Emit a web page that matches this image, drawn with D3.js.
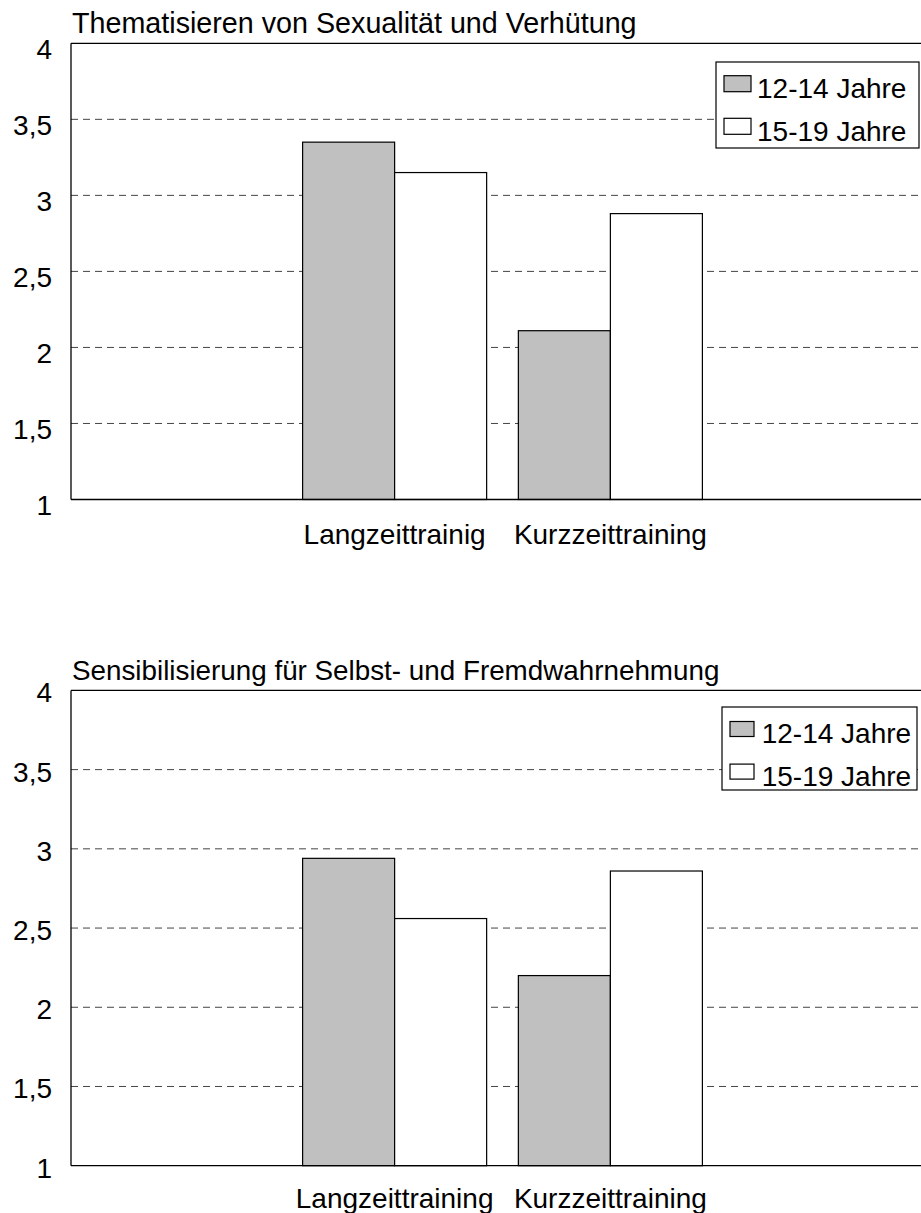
<!DOCTYPE html>
<html>
<head>
<meta charset="utf-8">
<script src="https://cdn.jsdelivr.net/npm/d3@7"></script>
<style>
  body { margin: 0; background: #fff; }
  svg text { font-family: "Liberation Sans", Arial, sans-serif; fill: #000; }
</style>
</head>
<body>
<div id="chart"></div>
<script>
// data
var series = ["12-14 Jahre", "15-19 Jahre"];
var tickValues = [1, 1.5, 2, 2.5, 3, 3.5, 4];
var tickLabels = ["1", "1,5", "2", "2,5", "3", "3,5", "4"];

var titles1 = "Thematisieren von Sexualität und Verhütung";
var categories1 = ["Langzeittrainig", "Kurzzeittraining"];
var values1_1214 = [3.35, 2.11];
var values1_1519 = [3.15, 2.88];

var titles2 = "Sensibilisierung für Selbst- und Fremdwahrnehmung";
var categories2 = ["Langzeittraining", "Kurzzeittraining"];
var values2_1214 = [2.94, 2.20];
var values2_1519 = [2.56, 2.86];

var colors = ["#c0c0c0", "#ffffff"];

var svg = d3.select("#chart").append("svg")
    .attr("width", 921)
    .attr("height", 1213);

function DrawChart(opt){
    var g = svg.append("g");
    var left = 71, right = 934;

    // 4 slots: empty, category, category, empty
    var slots = [0, 1, 2, 3];
    var x0 = d3.scaleBand().domain(slots).range([left, right])
        .paddingInner(0.147).paddingOuter(0.0735);
    var x1 = d3.scaleBand().domain(series).range([0, x0.bandwidth()]);
    var y = d3.scaleLinear().domain([1, 4]).range([opt.bottom, opt.top]);

    // gridlines
    g.selectAll("line.grid")
        .data(tickValues.filter(function(d){ return d > 1 && d < 4; }))
        .enter().append("line")
        .attr("class", "grid")
        .attr("x1", left).attr("x2", right)
        .attr("y1", function(d){ return y(d); })
        .attr("y2", function(d){ return y(d); })
        .attr("stroke", "#444")
        .attr("stroke-width", 1)
        .attr("stroke-dasharray", "7,5");

    // bars
    var rows = opt.categories.map(function(c, i){
        return {slot: i + 1, vals: [opt.a[i], opt.b[i]]};
    });
    var grp = g.selectAll("g.cat").data(rows).enter().append("g")
        .attr("class", "cat")
        .attr("transform", function(d){ return "translate(" + x0(d.slot) + ",0)"; });
    grp.selectAll("rect")
        .data(function(d){ return d.vals.map(function(v, k){ return {s: series[k], v: v, k: k}; }); })
        .enter().append("rect")
        .attr("x", function(d){ return x1(d.s); })
        .attr("width", x1.bandwidth())
        .attr("y", function(d){ return y(d.v); })
        .attr("height", function(d){ return y(1) - y(d.v); })
        .attr("fill", function(d){ return colors[d.k]; })
        .attr("stroke", "#000")
        .attr("stroke-width", 1.2);

    // frame: top, left, bottom
    g.append("line").attr("x1", left).attr("x2", right).attr("y1", y(4)).attr("y2", y(4))
        .attr("stroke", "#000").attr("stroke-width", 1.3);
    g.append("line").attr("x1", left).attr("x2", left).attr("y1", y(4)).attr("y2", y(1))
        .attr("stroke", "#000").attr("stroke-width", 1.3);
    g.append("line").attr("x1", left).attr("x2", right).attr("y1", y(1)).attr("y2", y(1))
        .attr("stroke", "#000").attr("stroke-width", 1.3);

    // y axis labels
    var ax = g.append("g")
        .attr("transform", "translate(" + left + ",0)")
        .call(d3.axisLeft(y).tickValues(tickValues).tickSize(0).tickPadding(19)
            .tickFormat(function(d, i){ return tickLabels[i]; }));
    ax.select(".domain").remove();
    ax.selectAll("text")
        .attr("font-size", 28)
        .attr("font-family", "Liberation Sans, Arial, sans-serif")
        .attr("fill", "#000")
        .attr("dy", opt.tickDy);

    // category labels
    g.selectAll("text.cat").data(rows).enter().append("text")
        .attr("class", "cat")
        .attr("x", function(d){ return x0(d.slot) + x0.bandwidth() / 2; })
        .attr("y", y(1) + opt.catOffset)
        .attr("text-anchor", "middle")
        .attr("font-size", 28)
        .text(function(d, i){ return opt.categories[i]; });

    // title
    g.append("text")
        .attr("x", left + 1)
        .attr("y", y(4) - 10)
        .attr("font-size", opt.titleSize)
        .text(opt.title);

    // legend
    var L = opt.legend;
    g.append("rect")
        .attr("x", L.x).attr("y", L.y).attr("width", L.w).attr("height", L.h)
        .attr("fill", "#fff").attr("stroke", "#000").attr("stroke-width", 1.2);
    var li = g.selectAll("g.leg").data(series).enter().append("g")
        .attr("class", "leg")
        .attr("transform", function(d, i){ return "translate(0," + (L.cy + i * L.step) + ")"; });
    li.append("rect")
        .attr("x", L.sx).attr("y", -L.sh / 2)
        .attr("width", L.sw).attr("height", L.sh)
        .attr("fill", function(d, i){ return colors[i]; })
        .attr("stroke", "#000").attr("stroke-width", 1.2);
    li.append("text")
        .attr("x", L.tx).attr("y", L.tdy)
        .attr("font-size", 28)
        .text(function(d){ return d; });
}

DrawChart({
    title: titles1, categories: categories1, a: values1_1214, b: values1_1519,
    top: 43.3, bottom: 499.5, tickDy: "0.54em", catOffset: 44, titleSize: 28.7,
    legend: {x: 716, y: 62, w: 203, h: 86, cy: 83.7, step: 42.6, sx: 724, sw: 27, sh: 16, tx: 757, tdy: 14.6}
});

DrawChart({
    title: titles2, categories: categories2, a: values2_1214, b: values2_1519,
    top: 690.4, bottom: 1165.7, tickDy: "0.41em", catOffset: 42.3, titleSize: 27.8,
    legend: {x: 722, y: 707, w: 195, h: 83, cy: 729, step: 42.6, sx: 730, sw: 24, sh: 15, tx: 761.7, tdy: 14}
});
</script>
</body>
</html>
